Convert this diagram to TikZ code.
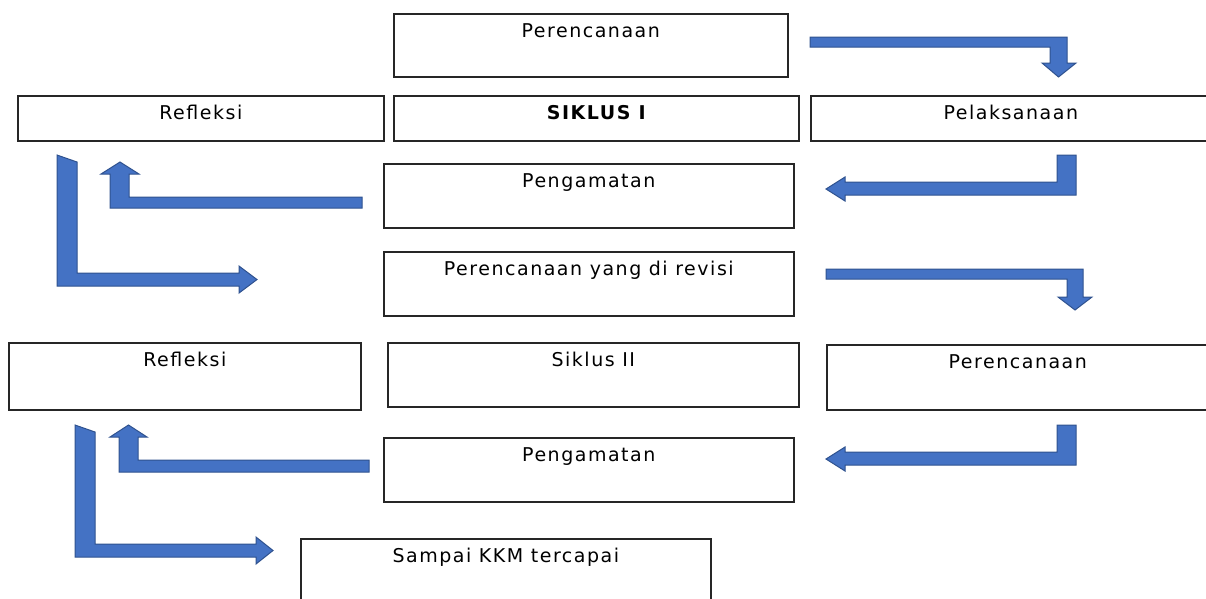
\documentclass[tikz,border=0pt]{standalone}
\usepackage{fontspec}
\setmainfont{DejaVu Sans}[LetterSpace=8]
\usepackage{tikz}
\usetikzlibrary{positioning}
\definecolor{panahbiru}{HTML}{4472C4}
\definecolor{tepibiru}{HTML}{2F528F}

\begin{document}
\begin{tikzpicture}[x=1pt, y=-1pt,
    kotak/.style={draw=black!85, line width=1.6pt, anchor=north west, inner sep=0pt},
    judul/.style={anchor=north, yshift=-10pt, inner sep=0pt,
                  font=\fontsize{19}{23}\selectfont},
    panah/.style={fill=panahbiru, draw=tepibiru, line width=1pt, line join=miter}]

    \useasboundingbox (0,0) rectangle (1206,598);
    \clip (0,0) rectangle (1206,598);

    % Siklus I
    \node[kotak, minimum width=394pt, minimum height=63pt,
          label={[judul]north:Perencanaan}] (rencana1) at (393,13) {};
    \node[kotak, minimum width=366pt, minimum height=45pt,
          label={[judul]north:Refleksi}] (refleksi1) at (17,95) {};
    \node[kotak, minimum width=405pt, minimum height=45pt,
          label={[judul]north:\bfseries SIKLUS I}] (siklus1) at (393,95) {};
    \node[kotak, minimum width=400pt, minimum height=45pt,
          label={[judul]north:Pelaksanaan}] (laksana1) at (810,95) {};
    \node[kotak, minimum width=410pt, minimum height=64pt,
          label={[judul]north:Pengamatan}] (amat1) at (383,163) {};

    % Revisi
    \node[kotak, minimum width=410pt, minimum height=64pt,
          label={[judul]north:Perencanaan yang di revisi}] (revisi) at (383,251) {};

    % Siklus II
    \node[kotak, minimum width=352pt, minimum height=67pt,
          label={[judul]north:Refleksi}] (refleksi2) at (8,342) {};
    \node[kotak, minimum width=411pt, minimum height=64pt,
          label={[judul]north:Siklus II}] (siklus2) at (387,342) {};
    \node[kotak, minimum width=382pt, minimum height=65pt,
          label={[judul]north:Perencanaan}] (rencana2) at (826,344) {};
    \node[kotak, minimum width=410pt, minimum height=64pt,
          label={[judul]north:Pengamatan}] (amat2) at (383,437) {};
    \node[kotak, minimum width=410pt, minimum height=64pt,
          label={[judul]north:Sampai KKM tercapai}] (sampai) at (300,538) {};

    % Panah siklus I
    \draw[panah] (810,37) -- (1067,37) -- (1067,63) -- (1076,63) -- (1058.5,77)
        -- (1042,63) -- (1050,63) -- (1050,47) -- (810,47) -- cycle;
    \draw[panah] (1057,155) -- (1076,155) -- (1076,195) -- (845,195) -- (845,201)
        -- (826,189) -- (845,177) -- (845,182) -- (1057,182) -- cycle;
    \draw[panah] (362,197) -- (362,208) -- (110,208) -- (110,174) -- (101,174)
        -- (120,162) -- (139,174) -- (129,174) -- (129,197) -- cycle;
    \draw[panah] (57,155) -- (77,162) -- (77,273) -- (239,273) -- (239,266)
        -- (257,279.5) -- (239,293) -- (239,286) -- (57,286) -- cycle;

    % Panah siklus II
    \draw[panah] (826,269) -- (1083,269) -- (1083,297) -- (1092,297) -- (1075,310)
        -- (1058,297) -- (1067,297) -- (1067,279) -- (826,279) -- cycle;
    \draw[panah] (1057,425) -- (1076,425) -- (1076,465) -- (845,465) -- (845,471)
        -- (826,459) -- (845,447) -- (845,452) -- (1057,452) -- cycle;
    \draw[panah] (369,460) -- (369,472) -- (119,472) -- (119,437) -- (110,437)
        -- (128.5,425) -- (147,437) -- (138,437) -- (138,460) -- cycle;
    \draw[panah] (75,425) -- (95,432) -- (95,544) -- (256,544) -- (256,537)
        -- (273,550.5) -- (256,564) -- (256,557) -- (75,557) -- cycle;

\end{tikzpicture}
\end{document}
